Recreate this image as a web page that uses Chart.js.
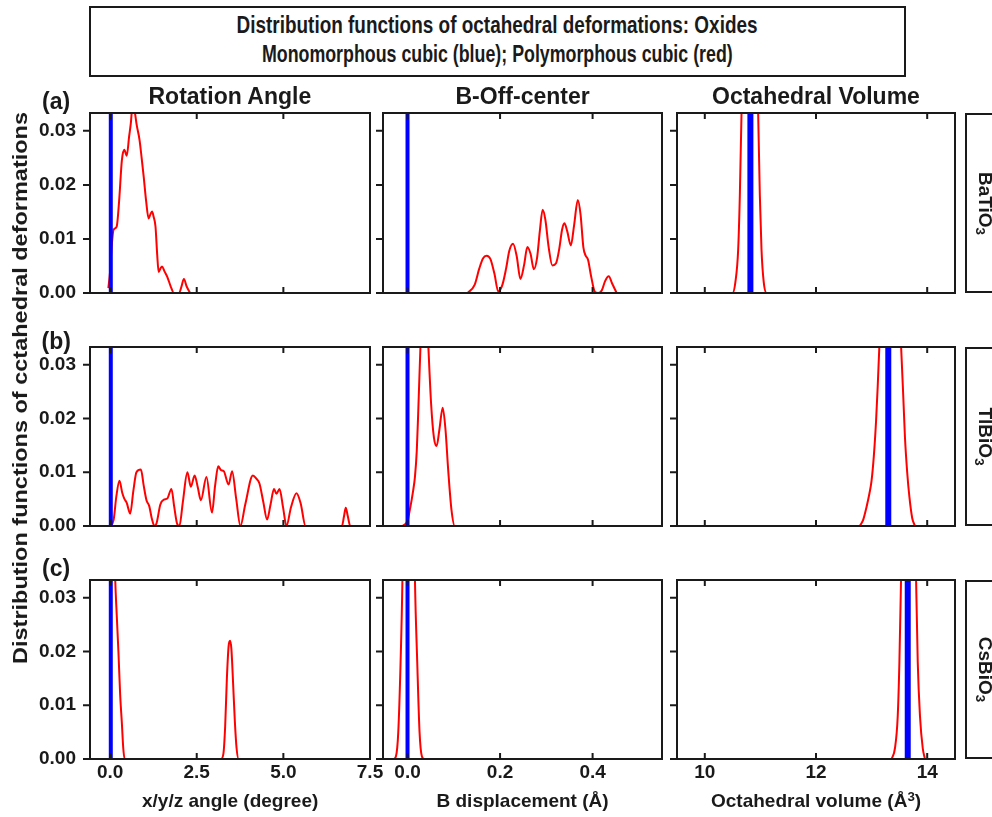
<!DOCTYPE html>
<html><head><meta charset="utf-8">
<script src="https://cdn.jsdelivr.net/npm/chart.js@4.4.0/dist/chart.umd.min.js"></script>
<style>
html,body{margin:0;padding:0;background:#fff;}
body{width:992px;height:817px;position:relative;overflow:hidden;font-family:"Liberation Sans",Arial,sans-serif;color:#1a1a1a;}
canvas{position:absolute;}
.t{position:absolute;white-space:nowrap;font-weight:bold;line-height:1;font-family:"Liberation Sans",Arial,sans-serif;color:#1a1a1a;}
.t sub{font-size:0.7em;vertical-align:-0.25em;line-height:0;}
.t sup{font-size:0.7em;vertical-align:0.45em;line-height:0;}
.box{position:absolute;border:2px solid #1a1a1a;box-sizing:border-box;}
</style></head><body>
<script>
// ---------- text ----------
const titleLines = ["Distribution functions of octahedral deformations: Oxides", "Monomorphous cubic (blue); Polymorphous cubic (red)"];
const columnTitles = ["Rotation Angle", "B-Off-center", "Octahedral Volume"];
const axisTitles = ["x/y/z angle (degree)", "B displacement (Å)", "Octahedral volume (Å<sup>3</sup>)"];
const rowLabels = ["BaTiO<sub>3</sub>", "TlBiO<sub>3</sub>", "CsBiO<sub>3</sub>"];
const panelLetters = ["(a)", "(b)", "(c)"];
const yTitle = "Distribution functions of cctahedral deformations";

// ---------- tick labels / axis ranges ----------
const rotTicks = [0, 2.5, 5.0, 7.5];
const offTicks = [0, 0.2, 0.4];
const volTicks = [10, 12, 14];
const yTicks = [0, 0.01, 0.02, 0.03];
const rotRange = [-0.58, 7.5];
const offRange = [-0.053, 0.55];
const volRange = [9.5, 14.5];
const yRange = [0, 0.0333];

// ---------- Monomorphous cubic (blue): delta positions (a, b, c) ----------
const blueRot = [0.02, 0.02, 0.02];
const blueOff = [0.0, 0.0, 0.0];
const blueVol = [10.82, 13.30, 13.65];
const bluePeak = [1, 1, 1];

// ---------- Polymorphous cubic (red) ----------
// (a) BaTiO3
const rotA_x = [-0.05, 0.0, 0.05, 0.1, 0.19, 0.26, 0.34, 0.41, 0.48, 0.55, 0.60, 0.65, 0.70, 0.77, 0.85, 0.91, 0.97, 1.04, 1.11, 1.16, 1.21, 1.26, 1.31, 1.36, 1.40, 1.45, 1.50, 1.57, 1.65, 1.75, 1.84, 1.92, 1.99, 2.06, 2.13, 2.21, 2.31];
const rotA_y = [0.0009, 0.004, 0.009, 0.0117, 0.0123, 0.017, 0.0246, 0.0265, 0.0254, 0.029, 0.0315, 0.035, 0.034, 0.031, 0.0283, 0.025, 0.0215, 0.017, 0.0138, 0.0145, 0.0151, 0.014, 0.0123, 0.007, 0.0039, 0.0045, 0.0049, 0.004, 0.0030, 0.0012, 0, 0, 0, 0.0012, 0.0026, 0.0012, 0];
const offA_x = [0.13, 0.145, 0.155, 0.163, 0.171, 0.179, 0.188, 0.196, 0.205, 0.213, 0.22, 0.228, 0.236, 0.244, 0.252, 0.259, 0.266, 0.273, 0.28, 0.286, 0.292, 0.298, 0.305, 0.313, 0.321, 0.328, 0.334, 0.339, 0.345, 0.353, 0.36, 0.368, 0.374, 0.38, 0.385, 0.39, 0.397, 0.405, 0.412, 0.42, 0.427, 0.435, 0.442, 0.452];
const offA_y = [0, 0.0015, 0.0045, 0.0064, 0.0069, 0.0063, 0.0035, 0.0003, 0.0015, 0.0045, 0.0078, 0.0091, 0.0068, 0.0026, 0.0052, 0.0085, 0.0072, 0.0044, 0.0065, 0.0115, 0.0154, 0.0135, 0.0085, 0.0051, 0.0055, 0.0082, 0.0117, 0.0129, 0.0115, 0.0088, 0.0125, 0.0172, 0.0145, 0.0085, 0.0069, 0.0062, 0.003, 0.0002, 0, 0.0005, 0.0022, 0.0031, 0.0018, 0];
const volA_x = [10.45, 10.5, 10.55, 10.6, 10.63, 10.66, 10.7, 10.75, 10.81, 10.87, 10.92, 10.96, 10.99, 11.02, 11.06, 11.11, 11.16];
const volA_y = [0, 0, 0.002, 0.008, 0.018, 0.033, 0.06, 0.09, 0.1, 0.09, 0.06, 0.033, 0.018, 0.008, 0.002, 0, 0];
// (b) TlBiO3
const rotB_x = [0.0, 0.1, 0.18, 0.27, 0.35, 0.41, 0.48, 0.58, 0.67, 0.76, 0.89, 0.97, 1.05, 1.13, 1.2, 1.28, 1.34, 1.45, 1.55, 1.65, 1.77, 1.85, 1.93, 2.0, 2.1, 2.23, 2.33, 2.44, 2.53, 2.62, 2.78, 2.94, 3.03, 3.12, 3.2, 3.28, 3.42, 3.52, 3.64, 3.76, 3.9, 4.12, 4.22, 4.31, 4.42, 4.53, 4.63, 4.73, 4.8, 4.89, 4.99, 5.09, 5.22, 5.38, 5.5, 5.64, 6.69, 6.75, 6.8, 6.86, 6.93, 7.5];
const rotB_y = [0, 0.0011, 0.0055, 0.0084, 0.0062, 0.0051, 0.0043, 0.0023, 0.0065, 0.0100, 0.0105, 0.0075, 0.0048, 0.0037, 0.0015, 0, 0.0005, 0.004, 0.0049, 0.0051, 0.0069, 0.0036, 0.0005, 0, 0.0045, 0.0100, 0.0073, 0.0094, 0.0072, 0.0048, 0.0091, 0.0025, 0.0075, 0.0111, 0.0104, 0.0102, 0.0077, 0.0102, 0.005, 0, 0.004, 0.0094, 0.0088, 0.0079, 0.0045, 0.0012, 0.004, 0.0069, 0.006, 0.0069, 0.0035, 0, 0.0035, 0.0061, 0.0042, 0, 0, 0.0018, 0.0034, 0.0018, 0, 0];
const offB_x = [-0.011, 0.0, 0.005, 0.012, 0.016, 0.02, 0.023, 0.028, 0.033, 0.037, 0.041, 0.045, 0.051, 0.057, 0.063, 0.069, 0.076, 0.082, 0.088, 0.095, 0.102, 0.55];
const offB_y = [0, 0.001, 0.003, 0.0065, 0.0091, 0.014, 0.0208, 0.0335, 0.042, 0.044, 0.042, 0.0335, 0.0227, 0.0165, 0.0149, 0.018, 0.022, 0.018, 0.0103, 0.003, 0, 0];
const volB_x = [12.79, 12.85, 12.91, 12.96, 13.0, 13.04, 13.08, 13.11, 13.14, 13.2, 13.26, 13.33, 13.4, 13.47, 13.53, 13.57, 13.6, 13.64, 13.68, 13.73, 13.78];
const volB_y = [0, 0.0012, 0.0036, 0.006, 0.0085, 0.013, 0.0195, 0.026, 0.0335, 0.045, 0.055, 0.058, 0.055, 0.045, 0.0335, 0.024, 0.0165, 0.01, 0.0054, 0.0015, 0];
// (c) CsBiO3
const rotC_x = [0.0, 0.06, 0.11, 0.145, 0.19, 0.24, 0.29, 0.34, 0.38, 0.42, 3.2, 3.27, 3.32, 3.37, 3.42, 3.46, 3.5, 3.55, 3.6, 3.65, 3.71, 7.5];
const rotC_y = [0.1, 0.07, 0.045, 0.034, 0.027, 0.020, 0.012, 0.0066, 0.002, 0, 0, 0.001, 0.006, 0.015, 0.021, 0.022, 0.0205, 0.014, 0.007, 0.002, 0, 0];
const offC_x = [-0.053, -0.03, -0.025, -0.02, -0.015, -0.011, -0.006, 0.002, 0.01, 0.016, 0.021, 0.026, 0.031, 0.036, 0.55];
const offC_y = [0, 0, 0.0005, 0.005, 0.018, 0.0335, 0.07, 0.1, 0.07, 0.0335, 0.018, 0.005, 0.0005, 0, 0];
const volC_x = [13.36, 13.42, 13.47, 13.5, 13.53, 13.58, 13.66, 13.74, 13.8, 13.83, 13.87, 13.92, 13.96];
const volC_y = [0, 0.002, 0.008, 0.018, 0.0335, 0.07, 0.1, 0.07, 0.0335, 0.018, 0.008, 0.002, 0];

// ---------- layout ----------
const colBox = [[90, 370], [383, 662], [677, 955]];
const rowBox = [[113, 293], [347, 526], [580, 759]];
const INK = '#1a1a1a';
const RED = '#ff0000', BLUE = '#0000ff';

const colCfg = [
  {range: rotRange, ticks: rotTicks, dec: 1, blue: blueRot, bw: 4, red: [[rotA_x, rotA_y], [rotB_x, rotB_y], [rotC_x, rotC_y]]},
  {range: offRange, ticks: offTicks, dec: 1, blue: blueOff, bw: 4, red: [[offA_x, offA_y], [offB_x, offB_y], [offC_x, offC_y]]},
  {range: volRange, ticks: volTicks, dec: 0, blue: blueVol, bw: 6, red: [[volA_x, volA_y], [volB_x, volB_y], [volC_x, volC_y]]}
];

const framePlugin = {
  id: 'frame',
  afterDatasetsDraw(chart) {
    const {ctx, chartArea: a, scales: {x, y}} = chart;
    ctx.save();
    ctx.strokeStyle = INK;
    ctx.lineWidth = 2;
    ctx.strokeRect(a.left, a.top, a.right - a.left, a.bottom - a.top);
    ctx.beginPath();
    x.ticks.forEach(t => {
      const px = x.getPixelForValue(t.value);
      if (px < a.left + 3 || px > a.right - 3) return;
      ctx.moveTo(px, a.top); ctx.lineTo(px, a.top + 6);
      ctx.moveTo(px, a.bottom); ctx.lineTo(px, a.bottom - 6);
    });
    y.ticks.forEach(t => {
      const py = y.getPixelForValue(t.value);
      ctx.moveTo(a.left, py); ctx.lineTo(a.left - 7, py);
    });
    ctx.stroke();
    ctx.restore();
  }
};

const tickFont = {family: '"Liberation Sans", Arial, sans-serif', size: 19, weight: 'bold'};

for (let r = 0; r < 3; r++) {
  for (let c = 0; c < 3; c++) {
    const cfg = colCfg[c];
    const [L, R] = colBox[c];
    const [T, B] = rowBox[r];
    const ML = c === 0 ? 80 : 12;
    const MR = 16, MT = 10;
    const MB = r === 2 ? 40 : 10;
    const cv = document.createElement('canvas');
    cv.width = (R - L) + ML + MR;
    cv.height = (B - T) + MT + MB;
    cv.style.left = (L - ML) + 'px';
    cv.style.top = (T - MT) + 'px';
    document.body.appendChild(cv);

    const bx = cfg.blue[r];
    const blueData = [{x: bx, y: 0}, {x: bx, y: bluePeak[r]}];
    const [rx, ry] = cfg.red[r];
    const redData = rx.map((v, i) => ({x: v, y: ry[i]}));

    new Chart(cv, {
      type: 'line',
      data: {
        datasets: [
          {data: blueData, borderColor: BLUE, borderWidth: cfg.bw, tension: 0, pointRadius: 0, fill: false},
          {data: redData, borderColor: RED, borderWidth: 2, tension: 0.4, cubicInterpolationMode: 'monotone', pointRadius: 0, fill: false}
        ]
      },
      options: {
        responsive: false, animation: false, devicePixelRatio: 1,
        events: [],
        layout: {padding: {top: MT, right: MR, left: 0, bottom: 0}},
        plugins: {legend: {display: false}, tooltip: {enabled: false}},
        scales: {
          x: {
            type: 'linear', min: cfg.range[0], max: cfg.range[1],
            afterBuildTicks: s => { s.ticks = cfg.ticks.map(v => ({value: v})); },
            afterFit: s => { s.height = MB; s.paddingLeft = 0; s.paddingRight = 0; s.paddingTop = 0; s.paddingBottom = 0; },
            grid: {display: false, drawTicks: false},
            border: {display: false},
            ticks: {display: r === 2, font: tickFont, color: INK, padding: 2, maxRotation: 0, autoSkip: false,
              callback: v => Number(v).toFixed(cfg.dec)}
          },
          y: {
            type: 'linear', min: yRange[0], max: yRange[1],
            afterBuildTicks: s => { s.ticks = yTicks.map(v => ({value: v})); },
            afterFit: s => { s.width = ML; s.paddingTop = 0; s.paddingBottom = 0; s.paddingLeft = 0; s.paddingRight = 0; },
            grid: {display: false, drawTicks: false},
            border: {display: false},
            ticks: {display: c === 0, font: tickFont, color: INK, padding: 14, autoSkip: false,
              callback: v => Number(v).toFixed(2)}
          }
        }
      },
      plugins: [framePlugin]
    });
  }
}

// ---------- boxes & text ----------
function box(l, t, w, h) {
  const d = document.createElement('div');
  d.className = 'box';
  d.style.left = l + 'px'; d.style.top = t + 'px';
  d.style.width = w + 'px'; d.style.height = h + 'px';
  document.body.appendChild(d);
}
function text(html, cx, cy, size, rot, fitW) {
  const d = document.createElement('div');
  d.className = 't';
  d.innerHTML = html;
  d.style.fontSize = size + 'px';
  document.body.appendChild(d);
  const w = d.offsetWidth, h = d.offsetHeight;
  const k = fitW ? fitW / w : 1;
  d.style.left = (cx - w / 2) + 'px';
  d.style.top = (cy - h / 2) + 'px';
  d.style.transform = 'rotate(' + (rot || 0) + 'deg) scaleX(' + k + ')';
}

box(89, 6, 817, 71);
text(titleLines[0], 497, 25, 24, 0, 521);
text(titleLines[1], 497, 54, 24, 0, 471);

const colCenters = [230, 522.5, 816];
for (let c = 0; c < 3; c++) {
  text(columnTitles[c], colCenters[c], 96, 23, 0);
  text(axisTitles[c], colCenters[c], 800, 19, 0);
}
const letterY = [101, 341, 568];
for (let r = 0; r < 3; r++) {
  text(panelLetters[r], 56, letterY[r], 23, 0);
  const [T, B] = rowBox[r];
  box(965, T, 45, B - T);
  text(rowLabels[r], 985, (T + B) / 2, 19, 90);
}
text(yTitle, 20, 388, 20, -90, 552);
</script>
</body></html>
